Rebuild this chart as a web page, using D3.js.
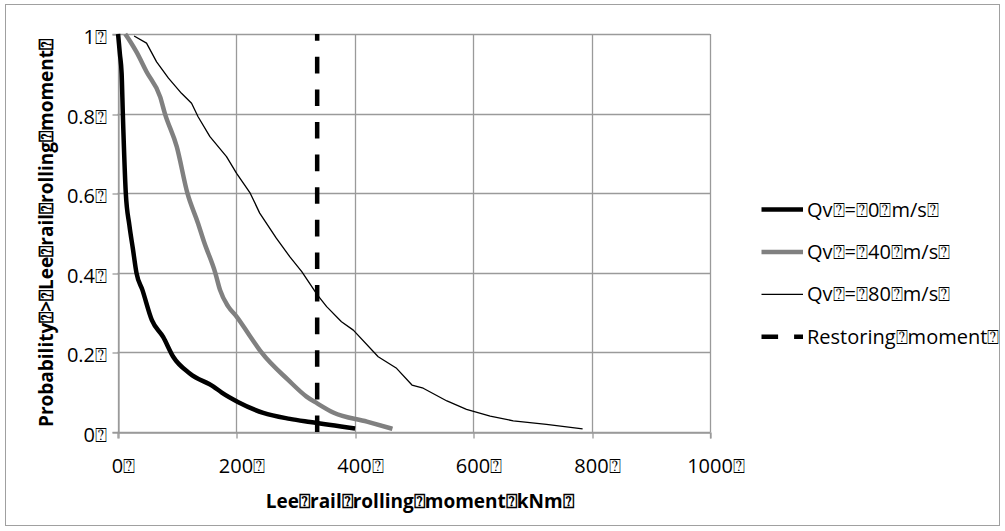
<!DOCTYPE html>
<html>
<head>
<meta charset="utf-8">
<script src="https://d3js.org/d3.v7.min.js"></script>
<style>
  html, body { margin: 0; padding: 0; background: #fff; }
  svg text { font-family: "Open Sans", "DejaVu Sans", sans-serif; fill: #000; }
</style>
</head>
<body>
<svg id="chart" width="1005" height="531"></svg>
<script>
// ---------------- data ----------------
const B = "\u2370"; // boxed question mark shown in place of missing glyphs
const xTickValues = [0, 200, 400, 600, 800, 1000];
const xTickLabels = ["0" + B, "200" + B, "400" + B, "600" + B, "800" + B, "1000" + B];
const yTickValues = [0, 0.2, 0.4, 0.6, 0.8, 1];
const yTickLabels = ["0" + B, "0.2" + B, "0.4" + B, "0.6" + B, "0.8" + B, "1" + B];

const xTitle = "Lee" + B + "rail" + B + "rolling" + B + "moment" + B + "kNm" + B;
const yTitle = "Probability" + B + ">" + B + "Lee" + B + "rail" + B + "rolling" + B + "moment" + B;

const seriesNames = [
  "Qv" + B + "=" + B + "0" + B + "m/s" + B,
  "Qv" + B + "=" + B + "40" + B + "m/s" + B,
  "Qv" + B + "=" + B + "80" + B + "m/s" + B,
  "Restoring" + B + "moment" + B
];

// Qv = 0 m/s
const qv0Moment = [1, 4, 7, 9, 14, 20, 26, 32, 42, 58, 77, 94, 122, 162, 176, 204, 246, 291, 325, 401];
const qv0Prob   = [1.0, 0.95, 0.9, 0.8, 0.6, 0.52, 0.46, 0.40, 0.357, 0.281, 0.239, 0.189, 0.147, 0.114, 0.099, 0.075, 0.048, 0.033, 0.025, 0.009];
// Qv = 40 m/s
const qv40Moment = [13, 22, 32, 49, 72, 80, 100, 118, 136, 146, 165, 173, 187, 201, 224, 243, 288, 319, 337, 364, 421, 464];
const qv40Prob   = [1.0, 0.98, 0.955, 0.905, 0.842, 0.8, 0.717, 0.6, 0.524, 0.478, 0.4, 0.357, 0.315, 0.29, 0.24, 0.2, 0.131, 0.089, 0.072, 0.049, 0.026, 0.008];
// Qv = 80 m/s
const qv80Moment = [28, 49, 66, 86, 108, 125, 136, 156, 184, 201, 224, 240, 268, 291, 311, 337, 353, 378, 398, 440, 471, 497, 516, 556, 589, 629, 668, 724, 785];
const qv80Prob   = [0.995, 0.977, 0.93, 0.889, 0.851, 0.826, 0.792, 0.742, 0.692, 0.65, 0.6, 0.55, 0.487, 0.44, 0.403, 0.345, 0.315, 0.277, 0.256, 0.189, 0.16, 0.118, 0.11, 0.078, 0.057, 0.04, 0.028, 0.019, 0.008];
// Restoring moment (vertical line)
const restoringMoment = [337, 337];
const restoringProb   = [0, 1];

// ---------------- layout ----------------
const svg = d3.select("#chart");
const plot = { left: 117.5, right: 710, top: 34, bottom: 432 };

const x = d3.scaleLinear().domain([0, 1000]).range([plot.left, plot.right]);
const y = d3.scaleLinear().domain([0, 1]).range([plot.bottom, plot.top]);

// outer frame
svg.append("rect").attr("x", 5.5).attr("y", 4.5).attr("width", 994).attr("height", 521)
  .attr("fill", "#fff").attr("stroke", "#a0a0a0").attr("stroke-width", 1);

const gridColor = "#9a9a9a";

// gridlines
svg.append("g").selectAll("line.h").data(yTickValues).join("line")
  .attr("x1", plot.left).attr("x2", plot.right)
  .attr("y1", d => Math.round(y(d)) + 0.5).attr("y2", d => Math.round(y(d)) + 0.5)
  .attr("stroke", gridColor).attr("stroke-width", 1.3);
svg.append("g").selectAll("line.v").data(xTickValues).join("line")
  .attr("y1", plot.top).attr("y2", plot.bottom)
  .attr("x1", d => Math.round(x(d)) + 0.5).attr("x2", d => Math.round(x(d)) + 0.5)
  .attr("stroke", gridColor).attr("stroke-width", 1.3);

// axes with ticks
const xAxis = d3.axisBottom(x).tickValues(xTickValues).tickSize(6).tickFormat("");
const gx = svg.append("g").attr("transform", `translate(0,${Math.round(plot.bottom) + 0.5})`).call(xAxis);
gx.select(".domain").attr("stroke", gridColor).attr("stroke-width", 1.3);
gx.selectAll(".tick line").attr("stroke", gridColor).attr("stroke-width", 1.3)
  .attr("transform", d => `translate(${Math.round(x(d)) + 0.5 - x(d)},0)`);

const yAxis = d3.axisLeft(y).tickValues(yTickValues).tickSize(6).tickFormat("");
const gy = svg.append("g").attr("transform", `translate(${Math.round(plot.left) + 0.5},0)`).call(yAxis);
gy.select(".domain").attr("stroke", gridColor).attr("stroke-width", 1.3);
gy.selectAll(".tick line").attr("stroke", gridColor).attr("stroke-width", 1.3)
  .attr("transform", d => `translate(0,${Math.round(y(d)) + 0.5 - y(d)})`);

// tick labels
svg.append("g").selectAll("text").data(xTickValues).join("text")
  .attr("x", d => x(d) + 6).attr("y", plot.bottom + 41)
  .attr("text-anchor", "middle").attr("font-size", 20)
  .text((d, i) => xTickLabels[i]);
svg.append("g").selectAll("text").data(yTickValues).join("text")
  .attr("x", 107).attr("y", d => y(d) + 10)
  .attr("text-anchor", "end").attr("font-size", 20)
  .text((d, i) => yTickLabels[i]);

// axis titles
svg.append("text").attr("x", (plot.left + plot.right) / 2 + 6).attr("y", 508)
  .attr("text-anchor", "middle").attr("font-size", 19).attr("font-weight", "bold")
  .text(xTitle);
svg.append("text").attr("transform", `translate(53,${(plot.top + plot.bottom) / 2}) rotate(-90)`)
  .attr("text-anchor", "middle").attr("font-size", 19).attr("font-weight", "bold")
  .text(yTitle);

// series
const smooth = d3.line().x(d => x(d[0])).y(d => y(d[1])).curve(d3.curveMonotoneX);
const straight = d3.line().x(d => x(d[0])).y(d => y(d[1]));
const series = [
  { m: qv0Moment, p: qv0Prob, color: "#000", width: 4.5, dash: null, gen: smooth },
  { m: qv40Moment, p: qv40Prob, color: "#808080", width: 4.5, dash: null, gen: smooth },
  { m: qv80Moment, p: qv80Prob, color: "#000", width: 1.3, dash: null, gen: straight },
  { m: restoringMoment, p: restoringProb, color: "#000", width: 4.5, dash: "16.6,16", gen: straight }
];
series.forEach(s => {
  svg.append("path").datum(d3.zip(s.m, s.p))
    .attr("d", s.gen).attr("fill", "none")
    .attr("stroke", s.color).attr("stroke-width", s.width)
    .attr("stroke-linejoin", "round")
    .attr("stroke-dasharray", s.dash);
});

// legend
const legend = svg.append("g");
series.forEach((s, i) => {
  const ly = 209.5 + i * 42.4;
  legend.append("line").attr("x1", 761.5).attr("x2", 803).attr("y1", ly).attr("y2", ly)
    .attr("stroke", s.color).attr("stroke-width", s.width).attr("stroke-dasharray", s.dash);
  legend.append("text").attr("x", 807).attr("y", ly + 7).attr("font-size", 20)
    .text(seriesNames[i]);
});
</script>
</body>
</html>
